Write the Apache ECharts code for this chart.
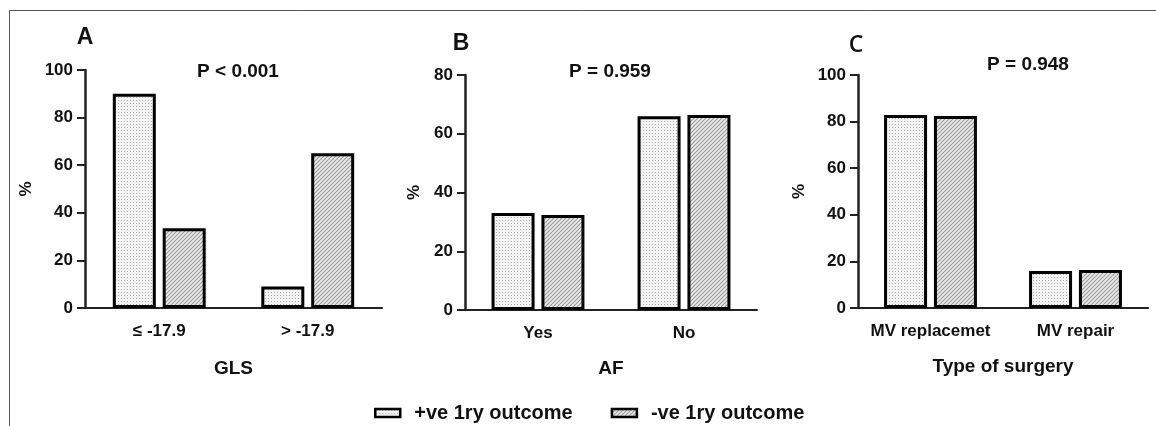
<!DOCTYPE html>
<html><head><meta charset="utf-8">
<script src="https://cdn.jsdelivr.net/npm/echarts@6/dist/echarts.min.js"></script>
<style>html,body{margin:0;padding:0;background:#fff}#c{width:1156px;height:426px}</style>
</head><body><div id="c"></div>
<script>
// Data
const catsA = ['≤ -17.9', '> -17.9'];
const posA = [90, 9];
const negA = [33.5, 65];
const catsB = ['Yes', 'No'];
const posB = [33, 66];
const negB = [32.3, 66.4];
const catsC = ['MV replacemet', 'MV repair'];
const posC = [82.8, 15.9];
const negC = [82.4, 16.3];
const panelLetters = ['A', 'B', 'C'];
const pValues = ['P < 0.001', 'P = 0.959', 'P = 0.948'];
const xNames = ['GLS', 'AF', 'Type of surgery'];
const yMax = [100, 80, 100];
const seriesNames = ['+ve 1ry outcome', '-ve 1ry outcome'];

function dotPattern() {
  const c = document.createElement('canvas'); c.width = 3; c.height = 3;
  const g = c.getContext('2d');
  g.fillStyle = '#f4f4f4'; g.fillRect(0, 0, 3, 3);
  g.fillStyle = '#a8a8a8'; g.fillRect(1, 1, 1, 1);
  return {image: c, repeat: 'repeat'};
}
function hatchPattern() {
  const c = document.createElement('canvas'); c.width = 4; c.height = 4;
  const g = c.getContext('2d');
  g.fillStyle = '#ececec'; g.fillRect(0, 0, 4, 4);
  g.strokeStyle = '#999'; g.lineWidth = 1.1;
  g.beginPath();
  g.moveTo(0, 4); g.lineTo(4, 0);
  g.moveTo(-1, 1); g.lineTo(1, -1);
  g.moveTo(3, 5); g.lineTo(5, 3);
  g.stroke();
  return {image: c, repeat: 'repeat'};
}
const dot = dotPattern();
const hatch = hatchPattern();

const FONT = '"Liberation Sans", Arial, sans-serif';
const grids = [
  {left: 85, top: 70, width: 297, height: 238},
  {left: 465, top: 75, width: 292, height: 235},
  {left: 858, top: 75, width: 290, height: 233}
];
const cats = [catsA, catsB, catsC];
const pos = [posA, posB, posC];
const neg = [negA, negB, negC];
const yNameGap = [50, 42, 50];
const xNameGap = [51, 49, 49];

const xAxis = [], yAxis = [], series = [];
for (let i = 0; i < 3; i++) {
  xAxis.push({
    type: 'category', gridIndex: i, data: cats[i],
    name: xNames[i], nameLocation: 'middle', nameGap: xNameGap[i],
    nameTextStyle: {fontFamily: FONT, fontWeight: 'bold', fontSize: 19, color: '#111'},
    axisLine: {lineStyle: {color: '#222', width: 2}},
    axisTick: {alignWithLabel: true, length: 9, lineStyle: {color: '#222', width: 2}},
    axisLabel: {interval: 0, fontFamily: FONT, fontWeight: 'bold', fontSize: 17, color: '#111', margin: 15}
  });
  yAxis.push({
    type: 'value', gridIndex: i, min: 0, max: yMax[i], interval: 20,
    name: '%', nameLocation: 'middle', nameGap: yNameGap[i], nameRotate: 90,
    nameTextStyle: {fontFamily: FONT, fontWeight: 'bold', fontSize: 17, color: '#111'},
    axisLine: {show: true, lineStyle: {color: '#222', width: 2.5}},
    axisTick: {show: true, length: 8, lineStyle: {color: '#222', width: 2}},
    splitLine: {show: false},
    axisLabel: {fontFamily: FONT, fontWeight: 'bold', fontSize: 17, color: '#111', margin: 12}
  });
  series.push({
    name: seriesNames[0], type: 'bar', xAxisIndex: i, yAxisIndex: i, data: pos[i],
    barWidth: 43, barGap: '16%',
    itemStyle: {color: dot, borderColor: '#000', borderWidth: 3}
  });
  series.push({
    name: seriesNames[1], type: 'bar', xAxisIndex: i, yAxisIndex: i, data: neg[i],
    barWidth: 43, barGap: '16%',
    itemStyle: {color: hatch, borderColor: '#000', borderWidth: 3}
  });
}

const letterPos = [[85, 38], [461, 44], [856, 45]];
const pPos = [[238, 72], [610, 72], [1028, 65]];
const graphic = [
  {type: 'polyline', shape: {points: [[9.5, 426], [9.5, 10.5], [1156, 10.5]]}, style: {stroke: '#555', lineWidth: 1, fill: null}}
];
for (let i = 0; i < 3; i++) {
  graphic.push({type: 'text', x: letterPos[i][0], y: letterPos[i][1],
    style: {text: panelLetters[i], fontFamily: i === 2 ? '"Open Sans", sans-serif' : FONT,
      fontWeight: i === 2 ? 600 : 'bold', fontSize: i === 2 ? 23 : 23, fill: '#111',
      align: 'center', verticalAlign: 'middle'}});
  graphic.push({type: 'text', x: pPos[i][0], y: pPos[i][1],
    style: {text: pValues[i], fontFamily: FONT, fontWeight: 'bold', fontSize: 19, fill: '#111',
      align: 'center', verticalAlign: 'middle'}});
}

const chart = echarts.init(document.getElementById('c'));
chart.setOption({
  animation: false,
  grid: grids,
  xAxis: xAxis,
  yAxis: yAxis,
  series: series,
  graphic: graphic,
  legend: {
    data: seriesNames, left: 369, top: 398, icon: 'rect', itemWidth: 25, itemHeight: 8, itemGap: 38,
    itemStyle: {borderColor: '#000', borderWidth: 2.5},
    textStyle: {fontFamily: FONT, fontWeight: 'bold', fontSize: 20, color: '#111', padding: [0, 0, 0, 9]}
  }
});
</script></body></html>
